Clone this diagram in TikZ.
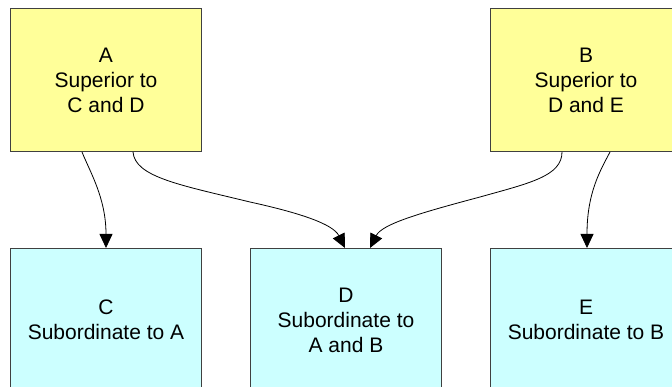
\documentclass[tikz,border=0pt]{standalone}
\usepackage{fontspec}
\setmainfont{Liberation Sans}
\usetikzlibrary{arrows.meta,calc}
\definecolor{supfill}{HTML}{FFFF99}
\definecolor{subfill}{HTML}{CCFFFF}
\definecolor{edgegray}{HTML}{404040}
\begin{document}
\begin{tikzpicture}[x=1pt,y=-1pt,
  box/.style={draw=edgegray,line width=1pt,minimum width=191pt,minimum height=143pt,
    inner sep=0pt,align=center,font=\fontsize{21pt}{25pt}\selectfont,anchor=north west},
  sup/.style={box,fill=supfill},
  sub/.style={box,fill=subfill},
  link/.style={draw=black,line width=0.8pt,-{Triangle[length=14pt,width=13pt]}}]
\useasboundingbox (0,0) rectangle (672,387);
\node[sup] (A) at (10,8) {A\\Superior to\\C and D};
\node[sup] (B) at (490,8) {B\\Superior to\\D and E};
\node[sub] (C) at (10,248) {C\\Subordinate to A};
\node[sub] (D) at (250,248) {D\\Subordinate to\\A and B};
\node[sub] (E) at (490,248) {E\\Subordinate to B};
\draw[link] ($(A.south west)+(72,0)$) .. controls +(8,20) and +(0,-50) .. ($(C.north west)+(96,0)$);
\draw[link] ($(A.south west)+(123,0)$) .. controls +(2,25) and (180,185) .. (250,202)
  .. controls (300,213) and (333,224) .. ($(D.north west)+(95,0)$);
\draw[link] ($(B.south west)+(72,0)$) .. controls +(0,24) and (530,183) .. (480,197)
  .. controls (420,213) and (382,224) .. ($(D.north west)+(120,0)$);
\draw[link] ($(B.south west)+(120,0)$) .. controls +(-10,19) and +(0,-55) .. ($(E.north west)+(97,0)$);
\end{tikzpicture}
\end{document}
